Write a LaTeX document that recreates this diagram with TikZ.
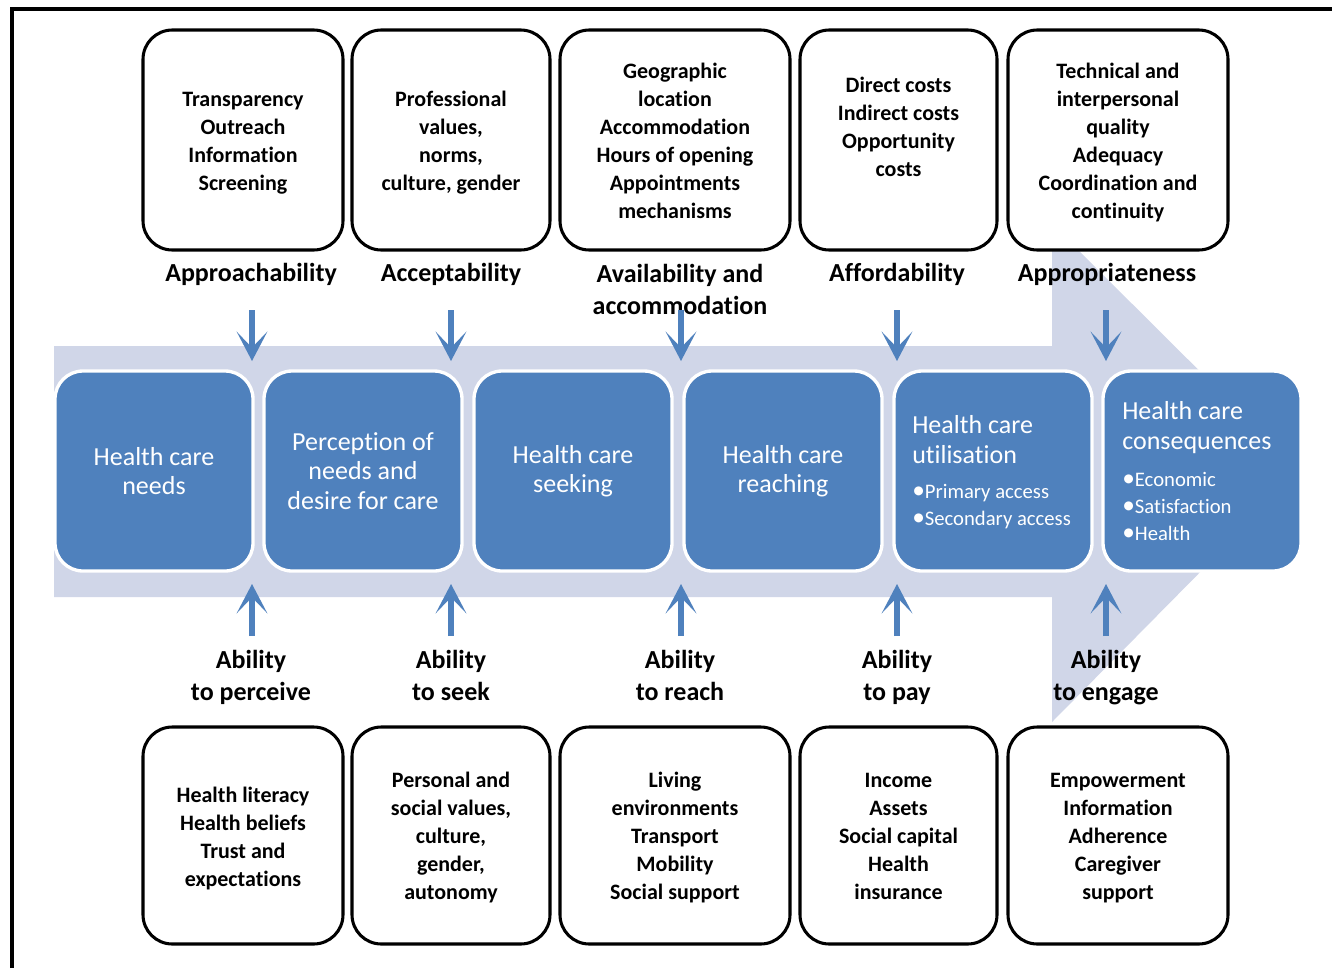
\documentclass[tikz,border=0pt]{standalone}
\usepackage{fontspec}
\setmainfont[Ligatures=NoCommon]{Carlito}
\usetikzlibrary{arrows.meta}
\definecolor{hblue}{RGB}{79,129,189}
\definecolor{hlight}{RGB}{208,214,232}
\newcommand{\bigbul}{{\fontsize{19}{20}\selectfont •}}
\begin{document}
\begin{tikzpicture}[x=0.75pt,y=-0.75pt,
  wbox/.style={draw=black, line width=2.3pt, rounded corners=22pt, fill=white, inner sep=0pt, minimum height=165pt},
  wboxb/.style={wbox, minimum height=162.75pt},
  wtext/.style={align=center, inner sep=0pt, font=\fontsize{16.5}{21}\selectfont\bfseries},
  lbl/.style={align=center, inner sep=0pt, font=\fontsize{19.5}{24}\selectfont\bfseries},
  bbox/.style={fill=hblue, draw=white, line width=2.5pt, rounded corners=21pt, minimum width=148.5pt, minimum height=150pt, inner sep=0pt},
  btext/.style={text=white, align=center, inner sep=0pt, font=\fontsize{19.5}{22}\selectfont},
  btitle/.style={text=white, align=left, inner sep=0pt, anchor=west, font=\fontsize{19.5}{22}\selectfont},
  bbul/.style={text=white, align=left, inner sep=0pt, anchor=west, font=\fontsize{15.5}{20}\selectfont},
  barrow/.style={draw=hblue, line width=5pt, -{Stealth[length=22pt,width=23pt,inset=12pt]}}
]
\useasboundingbox (0,0) rectangle (1332,968);
\fill[white] (0,0) rectangle (1332,968);
% outer frame (top and left)
\draw[line width=3pt] (12,968) -- (12,9) -- (1332,9);

% big background arrow
\fill[hlight] (54,346) -- (1052,346) -- (1052,250) -- (1078,250) -- (1300,471)
  -- (1052,722) -- (1052,597) -- (54,597) -- cycle;

% top white boxes
\node[wbox, minimum width=150pt]    (t1) at (243,140) {};
\node[wbox, minimum width=148.5pt]  (t2) at (451,140) {};
\node[wbox, minimum width=172.5pt]  (t3) at (675,140) {};
\node[wbox, minimum width=147.75pt] (t4) at (898.5,140) {};
\node[wbox, minimum width=165pt]    (t5) at (1118,140) {};
\node[wtext] (tt1) at ([yshift=-2.2pt]t1.center) {Transparency\\Outreach\\Information\\Screening};
\node[wtext] (tt2) at ([yshift=-2.2pt]t2.center) {Professional\\values,\\norms,\\culture, gender};
\node[wtext] (tt3) at ([yshift=-1pt]t3.center) {Geographic\\location\\Accommodation\\Hours of opening\\Appointments\\mechanisms};
\node[wtext] (tt4) at ([yshift=10pt]t4.center) {Direct costs\\Indirect costs\\Opportunity\\costs};
\node[wtext] (tt5) at ([yshift=-2.2pt]t5.center) {Technical and\\interpersonal\\quality\\Adequacy\\Coordination and\\continuity};

% bottom white boxes
\node[wboxb, minimum width=150pt]    (b1) at (243,835.5) {};
\node[wboxb, minimum width=148.5pt]  (b2) at (451,835.5) {};
\node[wboxb, minimum width=172.5pt]  (b3) at (675,835.5) {};
\node[wboxb, minimum width=147.75pt] (b4) at (898.5,835.5) {};
\node[wboxb, minimum width=165pt]    (b5) at (1118,835.5) {};
\node[wtext] (bt1) at ([yshift=-2.2pt]b1.center) {Health literacy\\Health beliefs\\Trust and\\expectations};
\node[wtext] (bt2) at ([yshift=-1.5pt]b2.center) {Personal and\\social values,\\culture,\\gender,\\autonomy};
\node[wtext] (bt3) at ([yshift=-1.5pt]b3.center) {Living\\environments\\Transport\\Mobility\\Social support};
\node[wtext] (bt4) at ([yshift=-0.8pt]b4.center) {Income\\Assets\\Social capital\\Health\\insurance};
\node[wtext] (bt5) at ([yshift=-2.2pt]b5.center) {Empowerment\\Information\\Adherence\\Caregiver\\support};

% top labels
\node[lbl] (l1) at (251,274.5) {Approachability};
\node[lbl] (l2) at (451,274.5) {Acceptability};
\node[lbl] (l3) at (680,289.5) {Availability and\\accommodation};
\node[lbl] (l4) at (897,274.5) {Affordability};
\node[lbl] (l5) at (1107,274.5) {Appropriateness};

% bottom labels
\node[lbl] (m1) at (251,680) {Ability\\to perceive\strut};
\node[lbl] (m2) at (451,680) {Ability\\to seek\strut};
\node[lbl] (m3) at (680,680) {Ability\\to reach\strut};
\node[lbl] (m4) at (897,680) {Ability\\to pay\strut};
\node[lbl] (m5) at (1106,680) {Ability\\to engage\strut};

% blue boxes
\node[bbox] (h1) at (154,471) {};
\node[bbox] (h2) at (363,471) {};
\node[bbox] (h3) at (573,471) {};
\node[bbox] (h4) at (783,471) {};
\node[bbox] (h5) at (993,471) {};
\node[bbox] (h6) at (1202,471) {};
\node[btext] (ht1) at (h1.center) {Health care\\needs};
\node[btext] (ht2) at (h2.center) {Perception of\\needs and\\desire for care};
\node[btext] (ht3) at (h3.center) {Health care\\seeking};
\node[btext] (ht4) at (h4.center) {Health care\\reaching};
\node[btitle] (ht5) at (912,439.5) {Health care\\utilisation};
\node[bbul] (hb5) at (912,506.5) {\bigbul Primary access\\\bigbul Secondary access};
\node[btitle] (ht6) at (1122,427.5) {Health care\\consequences};
\node[bbul] (hb6) at (1122,506.5) {\bigbul Economic\\\bigbul Satisfaction\\\bigbul Health};

% arrows
\foreach \i/\x in {1/252,2/451,3/681,4/897,5/1106}{
  \coordinate (ds\i) at (\x,310);
  \coordinate (de\i) at (\x,361);
  \coordinate (us\i) at (\x,636);
  \coordinate (ue\i) at (\x,584);
  \draw[barrow] (ds\i) -- (de\i);
  \draw[barrow] (us\i) -- (ue\i);
}
\end{tikzpicture}
\end{document}
